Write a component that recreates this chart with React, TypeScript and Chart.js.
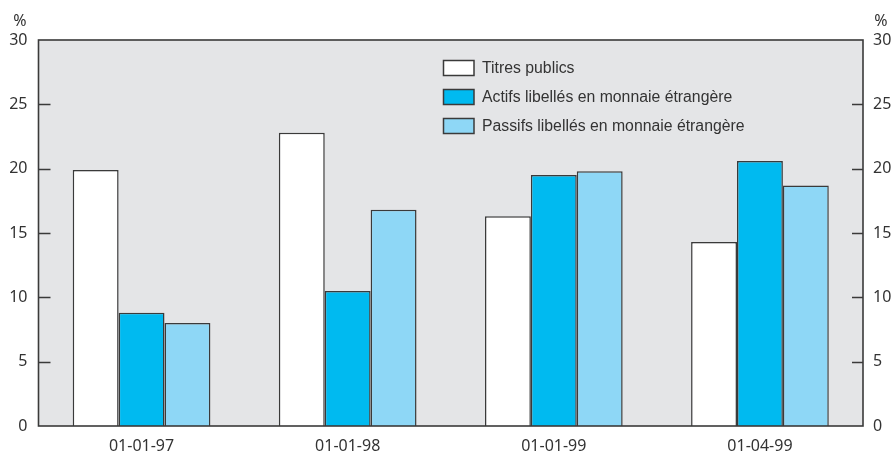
import React, { useEffect, useRef } from "react";
import { Chart, registerables } from "chart.js";

Chart.register(...registerables);

const categories = ["01-01-97", "01-01-98", "01-01-99", "01-04-99"];
const titresPublics = [19.9, 22.8, 16.3, 14.3];
const actifsDevises = [8.8, 10.5, 19.5, 20.6];
const passifsDevises = [8.0, 16.8, 19.8, 18.7];
const seriesLabels = [
  "Titres publics",
  "Actifs libellés en monnaie étrangère",
  "Passifs libellés en monnaie étrangère",
];
const seriesColors = ["#ffffff", "#00baf0", "#8ed7f6"];
const yTicks = [0, 5, 10, 15, 20, 25, 30];

const INK = "#3a3a3a";
const TEXT = "#333333";
const PANEL = "#e4e5e7";
const TICK_FONT = "16px 'Noto Sans', sans-serif";
const LEGEND_FONT = "15.8px 'Liberation Sans', Arial, sans-serif";

// Grey panel, frame, inward tick marks, "%" unit labels and the boxed legend.
const framePlugin = {
  id: "frame",
  beforeDatasetsDraw(chart: any) {
    const { ctx, chartArea } = chart;
    const { left, right, top, bottom } = chartArea;
    ctx.save();
    ctx.fillStyle = PANEL;
    ctx.fillRect(left, top, right - left, bottom - top);
    ctx.restore();
  },
  afterDatasetsDraw(chart: any) {
    const { ctx, chartArea, scales } = chart;
    const { left, right, top, bottom } = chartArea;
    const y = scales.y;
    ctx.save();
    ctx.strokeStyle = INK;
    ctx.lineWidth = 1.6;
    ctx.strokeRect(left, top, right - left, bottom - top);

    ctx.lineWidth = 1.4;
    yTicks.forEach((v) => {
      if (v === 0 || v === 30) return;
      const py = Math.round(y.getPixelForValue(v)) + 0.5;
      ctx.beginPath();
      ctx.moveTo(left, py);
      ctx.lineTo(left + 12, py);
      ctx.moveTo(right - 11, py);
      ctx.lineTo(right, py);
      ctx.stroke();
    });

    ctx.fillStyle = TEXT;
    ctx.font = TICK_FONT;
    ctx.textBaseline = "middle";
    ctx.textAlign = "center";
    ctx.fillText("%", 20, 21);
    ctx.fillText("%", 881, 21);

    // legend
    const boxX = 443.5;
    const rows = [68, 97, 126];
    ctx.font = LEGEND_FONT;
    ctx.textAlign = "left";
    rows.forEach((ry, i) => {
      ctx.fillStyle = seriesColors[i];
      ctx.fillRect(boxX, ry - 7.5, 30.5, 15);
      ctx.strokeStyle = INK;
      ctx.lineWidth = 1.5;
      ctx.strokeRect(boxX, ry - 7.5, 30.5, 15);
      ctx.fillStyle = TEXT;
      ctx.fillText(seriesLabels[i], 482, ry + 1);
    });
    ctx.restore();
  },
};

export default function App() {
  const canvasRef = useRef<HTMLCanvasElement | null>(null);

  useEffect(() => {
    if (!canvasRef.current) return;
    const dataSets = [titresPublics, actifsDevises, passifsDevises].map((d, i) => ({
      label: seriesLabels[i],
      data: d,
      backgroundColor: seriesColors[i],
      borderColor: INK,
      borderWidth: 1.5,
      borderSkipped: "bottom" as const,
      categoryPercentage: 0.668,
      barPercentage: 1.0,
    }));

    const yTickOpts = {
      font: { family: "'Noto Sans', sans-serif", size: 16 },
      color: TEXT,
      stepSize: 5,
      autoSkip: false,
    };

    const chart = new Chart(canvasRef.current, {
      type: "bar",
      data: { labels: categories, datasets: dataSets },
      plugins: [framePlugin],
      options: {
        animation: false,
        responsive: false,
        layout: { padding: { top: 40, left: 0, right: 0, bottom: 0 } },
        plugins: {
          legend: { display: false },
          tooltip: { enabled: false },
        },
        scales: {
          x: {
            grid: { display: false, drawTicks: false },
            border: { display: false },
            ticks: {
              font: { family: "'Noto Sans', sans-serif", size: 16 },
              color: TEXT,
              padding: 11,
              maxRotation: 0,
            },
            afterFit: (s: any) => {
              s.height = 27;
            },
          },
          y: {
            position: "left",
            min: 0,
            max: 30,
            grid: { display: false, drawTicks: false },
            border: { display: false },
            ticks: { ...yTickOpts, padding: 11 },
            afterFit: (s: any) => {
              s.width = 38.5;
            },
          },
          y2: {
            position: "right",
            min: 0,
            max: 30,
            grid: { display: false, drawTicks: false },
            border: { display: false },
            ticks: { ...yTickOpts, padding: 10 },
            afterFit: (s: any) => {
              s.width = 30;
            },
          },
        },
      },
    });
    return () => chart.destroy();
  }, []);

  return (
    <div style={{ position: "fixed", left: 0, top: 0, width: 893, height: 453, background: "#ffffff" }}>
      <canvas ref={canvasRef} width={893} height={453} style={{ display: "block" }} />
    </div>
  );
}
